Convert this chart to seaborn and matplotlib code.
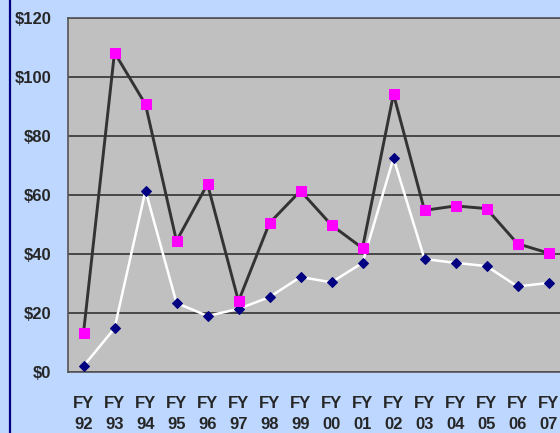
import matplotlib
matplotlib.use("Agg")
import matplotlib.pyplot as plt
from matplotlib.lines import Line2D
import seaborn as sns
import pandas as pd

# Fiscal years shown on the x axis
years = ["FY\n92", "FY\n93", "FY\n94", "FY\n95", "FY\n96", "FY\n97", "FY\n98", "FY\n99",
         "FY\n00", "FY\n01", "FY\n02", "FY\n03", "FY\n04", "FY\n05", "FY\n06", "FY\n07"]
# Upper series (magenta squares, dark line)
upper = [13.2, 108.3, 90.7, 44.4, 63.7, 24.0, 50.5, 61.4, 49.8, 42.0, 94.2, 54.8, 56.3, 55.4, 43.5, 40.3]
# Lower series (navy diamonds, white line)
lower = [2.0, 14.8, 61.5, 23.4, 19.0, 21.4, 25.4, 32.2, 30.4, 37.0, 72.5, 38.3, 37.0, 35.9, 29.0, 30.2]

df = pd.DataFrame({"Year": years, "Upper": upper, "Lower": lower})

sns.set_style("white")
plt.rcParams["font.family"] = ["Liberation Sans", "DejaVu Sans"]
plt.rcParams["font.weight"] = "bold"

fig = plt.figure(figsize=(5.6, 4.33), dpi=100)
fig.patch.set_facecolor("#BDD7FE")
ax = fig.add_axes([68 / 560, 61 / 433, 496 / 560, 354 / 433])
ax.set_facecolor("#C0C0C0")

sns.lineplot(data=df, x="Year", y="Lower", ax=ax, color="white", linewidth=1.8,
             marker="D", markersize=5.5, markerfacecolor="#000080",
             markeredgecolor="#000080", sort=False, zorder=3)
sns.lineplot(data=df, x="Year", y="Upper", ax=ax, color="#333333", linewidth=2.1,
             marker="s", markersize=6.5, markerfacecolor="#FF00FF",
             markeredgecolor="#FF00FF", sort=False, zorder=4)

ax.set_xlim(-0.5, len(years) - 0.5)
ax.set_ylim(0, 120)
ax.set_yticks(range(0, 121, 20))
ax.set_yticklabels([f"${v}" for v in range(0, 121, 20)], fontweight="bold")
ax.set_xticks(range(len(years)))
ax.set_xticklabels(years, fontweight="bold", linespacing=1.5)
ax.set_xlabel("")
ax.set_ylabel("")

ax.yaxis.grid(True, color="#333333", linewidth=1.2)
ax.set_axisbelow(True)

ax.set_xticks([i - 0.5 for i in range(len(years) + 1)], minor=True)
ax.tick_params(axis="x", which="major", length=0, pad=17, labelsize=12)
ax.tick_params(axis="x", which="minor", length=5, width=1, color="#333333", direction="out")
ax.tick_params(axis="y", length=5, width=1, color="#333333", direction="out", pad=7, labelsize=12)

for side in ["left", "bottom", "top"]:
    ax.spines[side].set_color("#555555")
    ax.spines[side].set_linewidth(1.2)
ax.spines["right"].set_visible(False)

# dark blue border on the left of the chart area
fig.add_artist(Line2D([10 / 560, 10 / 560], [0, 1], color="#000080", linewidth=1.6))

fig.savefig("out.png", dpi=100)
